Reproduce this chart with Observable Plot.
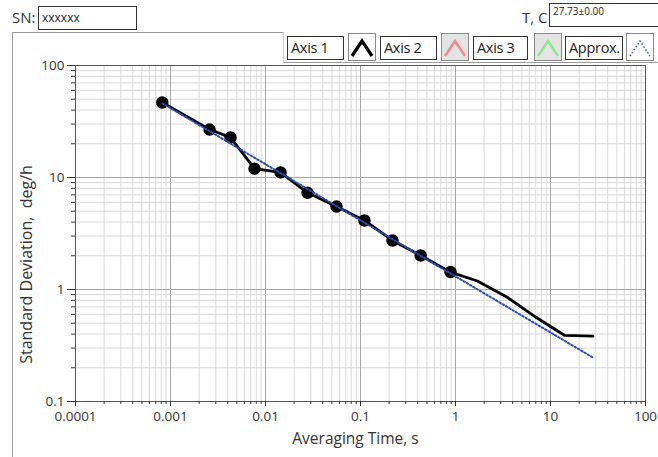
<!DOCTYPE html>
<html><head><meta charset="utf-8">
<script src="https://cdn.jsdelivr.net/npm/d3@7"></script>
<script src="https://cdn.jsdelivr.net/npm/@observablehq/plot@0.6"></script>
<style>
body{margin:0;background:#fff;font-family:"Open Sans",sans-serif;color:#333}
#wrap{position:relative;width:658px;height:457px;overflow:hidden;background:#fff}
.abs{position:absolute;box-sizing:border-box}
.lbox{background:#fff;border:1px solid #333;font-size:14.5px;letter-spacing:-0.3px;line-height:21px;padding-left:3px;white-space:nowrap;color:#222;overflow:hidden}
.ibox{border:1px solid #8a8a8a}
</style></head><body>
<div id="wrap">
  <div class="abs" style="left:12px;top:7px;font-size:15px;color:#333">SN:</div>
  <div class="abs" style="left:38px;top:6px;width:99px;height:24px;border:1px solid #333;font-size:12px;line-height:22px;padding-left:3px;color:#222">xxxxxx</div>
  <div class="abs" style="left:522px;top:7px;font-size:15px;color:#333">T, C</div>
  <div class="abs" style="left:549px;top:3px;width:112px;height:24px;border:1px solid #333;font-size:10px;line-height:14px;padding-left:3px;color:#222">27.73±0.00</div>
  <div id="chart" class="abs" style="left:0;top:32px"></div>
  <div class="abs" style="left:12px;top:32px;right:0;bottom:0;border-left:1px solid #9a9a9a;border-top:1px solid #9a9a9a;pointer-events:none"></div>
  <div id="legend" class="abs" style="left:283px;top:32px;width:375px;height:31px;background:#fff;border-bottom:1px solid #9a9a9a;border-left:1px solid #cfcfcf"></div>
</div>
<script>
// ---- data ----
const tau   = [0.00082, 0.00258, 0.00428, 0.00766, 0.0144, 0.0277, 0.0559, 0.110, 0.217, 0.43, 0.886, 1.70, 3.50, 7.09, 14.0, 28.0];
const sigma = [46.7, 26.8, 22.8, 12.0, 11.1, 7.3, 5.5, 4.13, 2.74, 2.01, 1.43, 1.19, 0.853, 0.562, 0.39, 0.383];
const dotTau   = [0.00082, 0.00258, 0.00428, 0.00766, 0.0144, 0.0277, 0.0559, 0.110, 0.217, 0.43, 0.886];
const dotSigma = [46.7, 26.8, 22.8, 12.0, 11.1, 7.3, 5.5, 4.13, 2.74, 2.01, 1.43];
const approxTau   = [0.00082, 27.5];
const approxSigma = [46.0, 0.249];
const xMajor = [1e-4, 1e-3, 1e-2, 1e-1, 1, 10, 100];
const xTickLabels = ["0.0001", "0.001", "0.01", "0.1", "1", "10", "100"];
const yMajor = [0.1, 1, 10, 100];
const yTickLabels = ["0.1", "1", "10", "100"];
const xLabel = "Averaging Time, s";
const yLabel = "Standard Deviation,  deg/h";
const legendLabels = ["Axis 1", "Axis 2", "Axis 3", "Approx."];
const legendColors = ["#000000", "#f08a8a", "#8fe68f", "#2a4db5"];

const mult = [2,3,4,5,6,7,8,9];
const xMinor = xMajor.slice(0, -1).flatMap(d => mult.map(k => d * k));
const yMinor = yMajor.slice(0, -1).flatMap(d => mult.map(k => d * k));

const chart = Plot.plot({
  width: 658, height: 425,
  marginLeft: 75, marginRight: 13, marginTop: 33, marginBottom: 56,
  style: {background: "transparent", fontFamily: "Open Sans", fontSize: "13.5px", color: "#333", overflow: "visible"},
  x: {type: "log", domain: [1e-4, 100]},
  y: {type: "log", domain: [0.1, 100]},
  marks: [
    Plot.ruleX(xMinor, {stroke: "#d9d9d9", strokeWidth: 1}),
    Plot.ruleY(yMinor, {stroke: "#d9d9d9", strokeWidth: 1}),
    Plot.ruleX(xMajor, {stroke: "#a6a6a6", strokeWidth: 1}),
    Plot.ruleY(yMajor, {stroke: "#a6a6a6", strokeWidth: 1}),
    Plot.frame({stroke: "#555"}),
    Plot.axisX({ticks: xMinor, tickSize: 3, tickFormat: () => "", label: null, stroke: "#333"}),
    Plot.axisX({ticks: xMajor, tickSize: 5, tickPadding: 5, tickFormat: d => xTickLabels[xMajor.indexOf(d)], label: null, stroke: "#333"}),
    Plot.axisY({ticks: yMinor, tickSize: 4, tickFormat: () => "", label: null, stroke: "#333"}),
    Plot.axisY({ticks: yMajor, tickSize: 8, tickPadding: 3, tickFormat: d => yTickLabels[yMajor.indexOf(d)], label: null, stroke: "#333"}),
    Plot.line(tau.map((t, i) => i), {x: i => tau[i], y: i => sigma[i], stroke: "#000", strokeWidth: 2.8}),
    Plot.dot(dotTau.map((t, i) => i), {x: i => dotTau[i], y: i => dotSigma[i], r: 5.5, fill: "#000", stroke: "#000"}),
    Plot.line(approxTau.map((t, i) => i), {x: i => approxTau[i], y: i => approxSigma[i], stroke: "#2a4db5", strokeWidth: 2, strokeDasharray: "1.6,2.2"}),
    Plot.text([xLabel], {text: d => d, frameAnchor: "bottom", dx: -5, dy: 42, fontSize: 15.5, fill: "#333"}),
    Plot.text([yLabel], {text: d => d, frameAnchor: "left", dx: -49, dy: 31, rotate: -90, textAnchor: "middle", fontSize: 16, fill: "#333"})
  ]
});
document.getElementById("chart").appendChild(chart);

// legend
const legend = document.getElementById("legend");
const labelLeft = [3, 96, 189, 281];
const labelWidth = [57, 57, 55, 58];
const iconLeft = [64, 157, 250, 342];
const iconBg = ["#fff", "#e4e4e4", "#e4e4e4", "#fff"];
legendLabels.forEach((lab, i) => {
  const b = document.createElement("div");
  b.className = "abs lbox";
  b.style.cssText = `left:${labelLeft[i]}px;top:4px;width:${labelWidth[i]}px;height:24px;`;
  b.textContent = lab;
  legend.appendChild(b);
  const ic = document.createElement("div");
  ic.className = "abs ibox";
  ic.style.cssText = `left:${iconLeft[i]}px;top:1px;width:28px;height:28px;background:${iconBg[i]}`;
  const dash = i === 3 ? 'stroke-dasharray="1.5,2"' : "";
  const sw = i === 0 ? 3.2 : (i === 3 ? 1.5 : 2.5);
  ic.innerHTML = `<svg width="26" height="26" style="display:block"><polyline points="3,22 13,7 23,22" fill="none" stroke="${legendColors[i]}" stroke-width="${sw}" ${dash}/></svg>`;
  legend.appendChild(ic);
});
</script>
</body></html>
